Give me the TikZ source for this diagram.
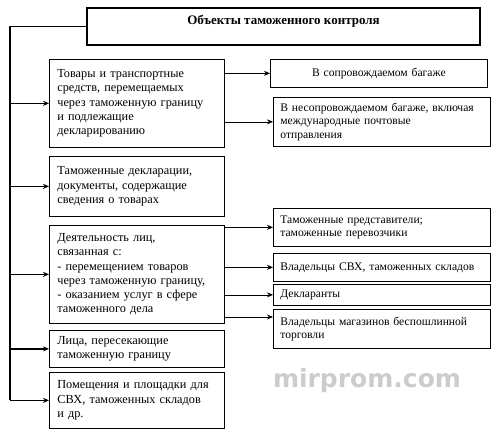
\documentclass[tikz,border=0pt]{standalone}
\usepackage{fontspec}
\setmainfont{Liberation Serif}
\usetikzlibrary{arrows.meta}
\begin{document}
\begin{tikzpicture}[x=1pt, y=-1pt,
  leftbox/.style={draw, line width=0.7pt, anchor=north west, inner xsep=8pt, text width=159pt, align=left, font=\fontsize{12.3}{14.3}\selectfont},
  rightbox/.style={draw, line width=0.7pt, anchor=north west, inner xsep=7pt, text width=203pt, align=left, font=\fontsize{11.6}{13.3}\selectfont},
  spine/.style={line width=1.6pt},
  mainarrow/.style={line width=1.6pt, -{Stealth[length=6pt, width=5pt]}},
  link/.style={line width=0.6pt, -{Stealth[length=6pt, width=5pt]}}]
\useasboundingbox (0,0) rectangle (500,435);

% Title
\node[draw, line width=1.8pt, minimum width=393pt, text height=12pt, text depth=16pt, inner ysep=4.5pt, font=\bfseries\fontsize{13}{15}\selectfont] (title) at (283.5,26.5) {Объекты таможенного контроля};

% Left column
\node[leftbox, minimum height=88pt] (goods) at (49,59) {Товары и транспортные\\средств, перемещаемых\\через таможенную границу\\и подлежащие\\декларированию};
\node[leftbox, minimum height=60pt] (docs) at (49,156) {Таможенные декларации,\\документы, содержащие\\сведения о товарах};
\node[leftbox, minimum height=98pt] (activity) at (49,225) {Деятельность лиц,\\связанная с:\\- перемещением товаров\\через таможенную границу,\\- оказанием услуг в сфере\\таможенного дела};
\node[leftbox, minimum height=37pt] (persons) at (49,330) {Лица, пересекающие\\таможенную границу};
\node[leftbox, minimum height=56pt] (premises) at (49,372) {Помещения и площадки для\\СВХ, таможенных складов\\и др.};

% Right column
\node[rightbox, align=center, minimum height=28pt] (accomp) at (270,59) {В сопровождаемом багаже};
\node[rightbox, minimum height=49pt] (unaccomp) at (273,97) {В несопровождаемом багаже, включая\\международные почтовые\\отправления};
\node[rightbox, minimum height=38pt] (agents) at (273,208) {Таможенные представители;\\таможенные перевозчики};
\node[rightbox, minimum height=28pt] (owners) at (273,253) {Владельцы СВХ, таможенных складов};
\node[rightbox, minimum height=21pt] (declarants) at (273,284) {Декларанты};
\node[rightbox, minimum height=39pt] (shops) at (273,309) {Владельцы магазинов беспошлинной\\торговли};
\coordinate (shops in) at ([yshift=-8pt]shops.north west);

% Spine
\coordinate (spine) at (10,0);
\draw[spine] (title.west) -| (spine |- premises.west);
\foreach \b in {goods, docs, activity, persons, premises}
  \draw[mainarrow] (spine |- \b.west) -- (\b.west);

% Links
\draw[link] (goods.east |- accomp.west) -- (accomp.west);
\draw[link] (goods.east |- unaccomp.west) -- (unaccomp.west);
\foreach \r in {agents, owners, declarants}
  \draw[link] (activity.east |- \r.west) -- (\r.west);
\draw[link] (activity.east |- shops in) -- (shops in);

% Watermark
\node[text=gray!40, font=\fontspec{DejaVu Sans}\bfseries\fontsize{25}{25}\selectfont] (mark) at (367,381) {mirprom.com};
\end{tikzpicture}
\end{document}
